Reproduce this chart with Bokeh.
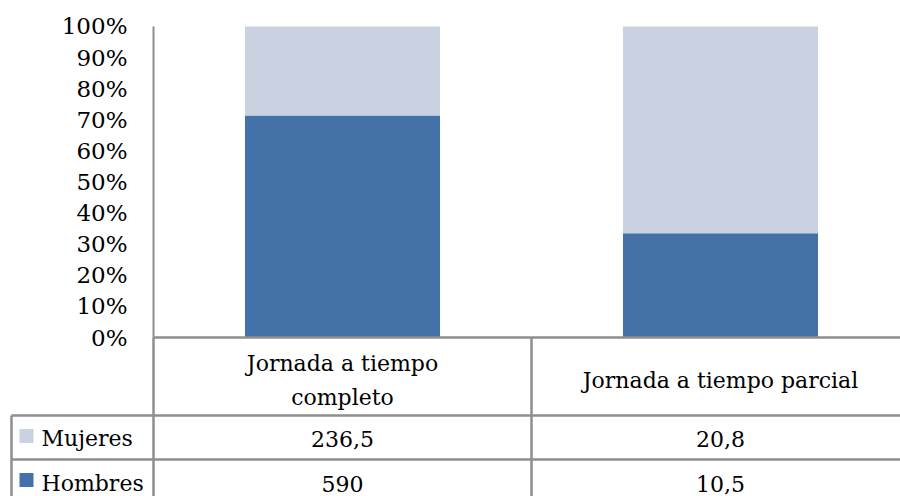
from bokeh.plotting import figure
from bokeh.models import Range1d, FixedTicker, LinearAxis
from bokeh.core.properties import value
from bokeh.embed import file_html
from bokeh.resources import INLINE

# ---- data ----
categories = ["Jornada a tiempo\ncompleto", "Jornada a tiempo parcial"]
series_names = ["Mujeres", "Hombres"]
mujeres = [236.5, 20.8]
hombres = [590, 10.5]
mujeres_labels = ["236,5", "20,8"]
hombres_labels = ["590", "10,5"]
y_ticks = [0, 10, 20, 30, 40, 50, 60, 70, 80, 90, 100]
y_tick_labels = ["0%", "10%", "20%", "30%", "40%", "50%", "60%", "70%", "80%", "90%", "100%"]

# ---- styles ----
FONT = "DejaVu Serif"
C_M = "#CAD2E2"
C_H = "#4472A8"
GRID = "#8E8E8E"

xs = [i + 1 for i in range(len(categories))]
totals = [m + h for m, h in zip(mujeres, hombres)]
h_pct = [100.0 * h / t for h, t in zip(hombres, totals)]
m_top = [100.0 for _ in totals]

X_LEFT = 0.09524
X_RIGHT = 2.47619
Y_BOTTOM = -51.125
Y_TOP = 108.36

p = figure(width=900, height=496, x_range=Range1d(X_LEFT, X_RIGHT), y_range=Range1d(Y_BOTTOM, Y_TOP),
           output_backend="svg", toolbar_location=None, x_axis_location=None, y_axis_location=None,
           min_border=0)
p.outline_line_color = None
p.xgrid.visible = False
p.ygrid.visible = False
# table layout in screen-like coordinates (top = 0, bottom = 496)
p.extra_y_ranges = {"table": Range1d(496, 0)}

# bars (100% stacked)
p.vbar(x=xs, width=0.516, bottom=0, top=h_pct, fill_color=C_H, line_color=None)
p.vbar(x=xs, width=0.516, bottom=h_pct, top=m_top, fill_color=C_M, line_color=None)

# y axis drawn at the left edge of the plot area
ax = LinearAxis(fixed_location=0.5, bounds=(0, 100), ticker=FixedTicker(ticks=y_ticks))
ax.major_label_overrides = {t: l for t, l in zip(y_ticks, y_tick_labels)}
ax.axis_line_color = GRID
ax.axis_line_width = 2
ax.major_tick_line_color = None
ax.minor_tick_line_color = None
ax.major_tick_out = 0
ax.major_tick_in = 0
ax.major_label_standoff = 26
ax.major_label_text_font = FONT
ax.major_label_text_font_size = "23px"
ax.major_label_text_color = "black"
p.add_layout(ax, "left")

# data table lines
X_TBL = 0.1243
p.segment(x0=[0.5, 0.5, 1.5, X_TBL, X_TBL, X_TBL], y0=[337, 337, 337, 415, 415, 459],
          x1=[X_RIGHT, 0.5, 1.5, X_TBL, X_RIGHT, X_RIGHT], y1=[337, 496, 496, 496, 415, 459],
          line_color=GRID, line_width=2.5, y_range_name="table")

p.text(x=xs, y=[380, 380], text=categories, text_font=value(FONT), text_font_size="22px",
       text_align="center", text_baseline="middle", text_color="black", text_line_height=1.36,
       y_range_name="table")
p.text(x=xs, y=[438, 438], text=mujeres_labels, text_font=value(FONT), text_font_size="22px",
       text_align="center", text_baseline="middle", text_color="black", y_range_name="table")
p.text(x=xs, y=[483, 483], text=hombres_labels, text_font=value(FONT), text_font_size="22px",
       text_align="center", text_baseline="middle", text_color="black", y_range_name="table")

p.scatter(x=[0.16402, 0.16402], y=[435.5, 479.5], marker="square", size=14,
          fill_color=[C_M, C_H], line_color=None, y_range_name="table")
p.text(x=[0.2037, 0.2037], y=[438, 483], text=series_names, text_font=value(FONT),
       text_font_size="22px", text_align="left", text_baseline="middle", text_color="black",
       y_range_name="table")

open("out.html", "w").write(file_html(p, INLINE))
